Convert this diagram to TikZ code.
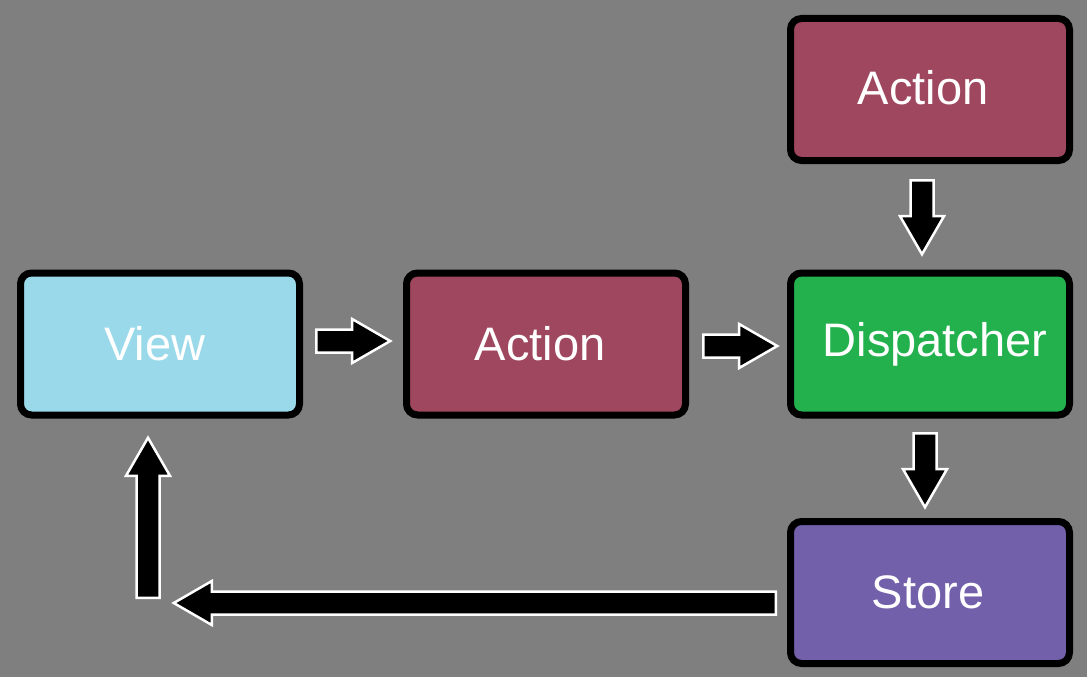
\documentclass[tikz,border=0pt]{standalone}
\usepackage{fontspec}
\setmainfont{Liberation Sans}
\usetikzlibrary{shapes.arrows}

\definecolor{bggray}{HTML}{7F7F7F}
\definecolor{viewblue}{HTML}{99D9EA}
\definecolor{actionred}{HTML}{9F475E}
\definecolor{dispgreen}{HTML}{22B14C}
\definecolor{storepurple}{HTML}{7360AA}

\tikzset{
  box/.style={draw=black, line width=7pt, rounded corners=11pt,
    minimum width=279pt, minimum height=142pt, text=white,
    font=\fontsize{47}{56}\selectfont},
  flow/.style={single arrow, draw=white, fill=black, line width=2.5pt,
    inner xsep=0pt, inner ysep=10.25pt, outer sep=0pt,
    single arrow tip angle=60, single arrow head extend=10.5pt,
    minimum height=74pt, anchor=tail}
}

\begin{document}
\begin{tikzpicture}[x=1pt, y=-1pt]

% Background
\fill[bggray] (0, 0) rectangle (1087, 677);
\useasboundingbox (0, 0) rectangle (1087, 677);

% Boxes
\node[box, fill=viewblue] (view) at (160, 344) {View\kern10pt};
\node[box, fill=actionred] (act) at (546, 344) {Action\kern12pt};
\node[box, fill=dispgreen] (disp) at (930, 344) {\kern10pt Dispatcher};
\node[box, fill=actionred] (acttop) at (930, 89.5) {\raisebox{4pt}{Action}\kern14pt};
\node[box, fill=storepurple] (store) at (930, 592.5) {Store\kern4pt};

% Flow arrows
\node[flow] (toact) at (316.25, 341) {};
\node[flow] (todisp) at (703.25, 346) {};
\node[flow, rotate=-90] (topdisp) at (922, 180.25) {};
\node[flow, rotate=-90] (tostore) at (925, 433.25) {};
\node[flow, rotate=180, minimum height=602pt] (back) at (775.75, 603) {};
\node[flow, rotate=90, minimum height=160pt] (toview) at (148, 597.75) {};

\end{tikzpicture}
\end{document}
